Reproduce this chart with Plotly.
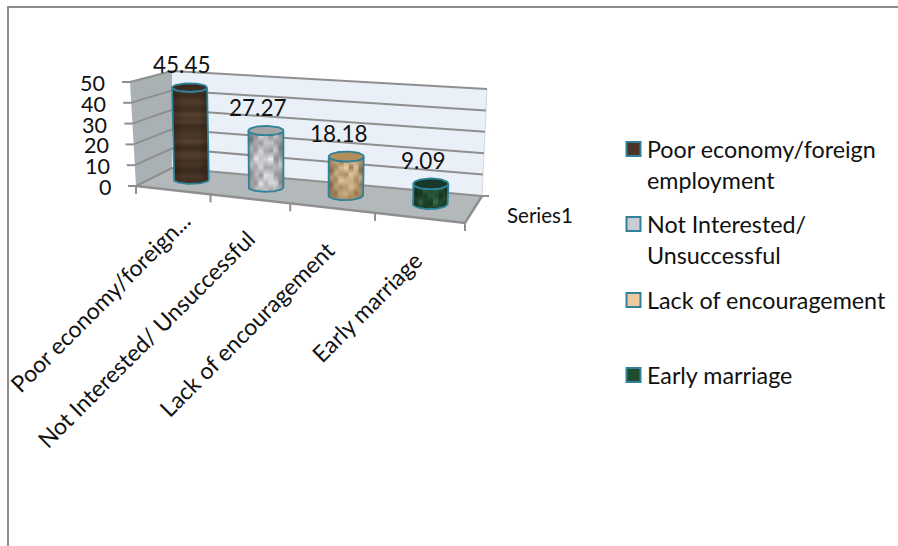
import numpy as np
import plotly.graph_objects as go

# ---- data ----
categories = ["Poor economy/foreign employment", "Not Interested/ Unsuccessful",
              "Lack of encouragement", "Early marriage"]
axis_labels = ["Poor economy/foreign...", "Not Interested/ Unsuccessful",
               "Lack of encouragement", "Early marriage"]
values = [45.45, 27.27, 18.18, 9.09]
value_text = ["45.45", "27.27", "18.18", "9.09"]
y_ticks = [0, 10, 20, 30, 40, 50]
series_name = "Series1"
legend_lines = [["Poor economy/foreign", "employment"], ["Not Interested/", "Unsuccessful"],
                ["Lack of encouragement"], ["Early marriage"]]

# ---- styling ----
FONT = "Lato"
FS_LEGEND = 23.3
FS_AXIS = 23
FS_VALUE = 22.5
FS_TICK = 21.5
FS_SERIES = 20.5
TXT = "#111111"
GRID = "#8f8f8f"
EDGE = "#2f8299"
WALL = "#e9f0f7"
FLOOR = "#b3b8bb"
SIDE = "#aab1b4"
top_fill = ["#3b2a1e", "#a3a5a7", "#b48f5c", "#17382a"]
key_fill = ["#4b3325", "#c9ccd0", "#efc9a0", "#1f4d2c"]
# cylinder surface texture: one digit string per column (top to bottom), 0 = low colour, 9 = high colour
tex_low = ["#2f2116", "#6a6d71", "#8f6a3c", "#0f3019"]
tex_high = ["#6a523c", "#f0f0f1", "#e6cfa8", "#4f8a5f"]
textures = [
    ["33422435523644325463354244"],
    ["56485726", "74659453", "48376738", "65847465", "37749362", "58463748", "74595364"],
    ["4427264", "4264747", "3538471", "3647396", "2476828", "5264795", "3649264"],
    ["1314", "2513", "1225", "3142", "1634", "2315", "1423"],
]


# ---- oblique perspective scale (value space -> page pixels) ----
FLOOR_CORNERS = np.array([(136, 186), (465, 223), (482, 196), (172, 168)], float)
ROOF_CORNERS = np.array([(130, 82), (470, 108), (487, 89), (172, 71)], float)
VMAX = 50.0


def plane(c, u, w):
    s = 0.875 * u + 0.125 * u * u
    return (1 - w) * ((1 - s) * c[0] + s * c[1]) + w * ((1 - s) * c[3] + s * c[2])


def project(u, w, v):
    t = v / VMAX
    return (1 - t) * plane(FLOOR_CORNERS, u, w) + t * plane(ROOF_CORNERS, u, w)


def mix(a, b, t):
    ca = [int(a[i:i + 2], 16) for i in (1, 3, 5)]
    cb = [int(b[i:i + 2], 16) for i in (1, 3, 5)]
    return "rgb(%d,%d,%d)" % tuple(round(x + (y - x) * t) for x, y in zip(ca, cb))


fig = go.Figure()


def line(pts, color=GRID, width=2):
    xs, ys = zip(*pts)
    fig.add_trace(go.Scatter(x=list(xs), y=list(ys), mode="lines", line=dict(color=color, width=width),
                             hoverinfo="skip", showlegend=False))


def poly(pts, fill, lc="rgba(0,0,0,0)", lw=0, gradient=None):
    xs, ys = zip(*pts)
    kw = dict(fillgradient=gradient) if gradient else dict(fillcolor=fill)
    fig.add_trace(go.Scatter(x=list(xs) + [xs[0]], y=list(ys) + [ys[0]], mode="lines", fill="toself",
                             line=dict(color=lc, width=lw), hoverinfo="skip", showlegend=False, **kw))


def label(x, y, text, size, **kw):
    fig.add_annotation(x=x, y=y, text=text, showarrow=False, xref="x", yref="y",
                       font=dict(family=FONT, size=size, color=TXT), **kw)


# chart frame
line([(8, 546), (8, 7), (898, 7)], "#8c8c8c", 2)

# walls and floor
poly([project(0, 1, 0), project(1, 1, 0), project(1, 1, VMAX), project(0, 1, VMAX)], WALL)
poly([project(0, 0, 0), project(0, 1, 0), project(0, 1, VMAX), project(0, 0, VMAX)], SIDE)
poly([project(0, 0, 0), project(1, 0, 0), project(1, 1, 0), project(0, 1, 0)], FLOOR)
line([project(1, 1, 0), project(1, 1, VMAX)], "#d5d9dc", 1)

# gridlines on side + back wall, value ticks
for t in y_ticks:
    line([project(0, 0, t), project(0, 1, t), project(1, 1, t)], GRID, 2)
    f = project(0, 0, t)
    line([f, f + np.array([-8, 0])], GRID, 2)
    label(f[0] - 23, f[1] + 1, str(t), FS_TICK, xanchor="right", yanchor="middle", height=18)

# floor edges and category ticks
line([project(0, 0, 0), project(1, 0, 0), project(1, 1, 0)], GRID, 2.5)
for i in range(len(values) + 1):
    f = project(i / len(values), 0, 0)
    line([f, f + np.array([0, 8])], GRID, 2)
b = project(1, 1, 0)
line([b, b + np.array([7, 0])], GRID, 2)
label(539.5, 215, series_name, FS_SERIES)

# cylinders
RX = 17.5
for i, v in enumerate(values):
    u = (i + 0.5) / len(values)
    B = project(u, 0.55, 0)
    T = project(u, 0.55, v)
    ry = 4 + 1.6 * u
    th = np.linspace(0, np.pi, 40)
    arc = np.c_[np.cos(th) * RX, np.sin(th) * ry]
    side = [T + [-RX, 0]] + [B + [-RX, 0]] + [B + p for p in arc[::-1]] + [T + [RX, 0]] + [T + p for p in arc]
    cols = textures[i]
    for k, digits in enumerate(cols):
        f0, f1 = -1 + 2 * k / len(cols), -1 + 2 * (k + 1) / len(cols) + (0.03 if k < len(cols) - 1 else 0)
        fr = np.linspace(f0, f1, 12)
        low = [B + [x * RX, ry * np.sqrt(max(0, 1 - x * x))] for x in fr]
        up = [T + [x * RX, ry * np.sqrt(max(0, 1 - x * x))] for x in fr[::-1]]
        scale = [[j / (len(digits) - 1), mix(tex_low[i], tex_high[i], int(d) / 9)] for j, d in enumerate(digits)]
        poly(low + up, "", gradient=dict(type="vertical", colorscale=scale))
    shade = [[0, "rgba(0,0,0,0.25)"], [0.3, "rgba(0,0,0,0)"], [0.7, "rgba(0,0,0,0)"], [1, "rgba(0,0,0,0.25)"]]
    poly(side, "", gradient=dict(type="horizontal", colorscale=shade))
    poly(side, "rgba(0,0,0,0)", EDGE, 1.8)
    full = np.linspace(0, 2 * np.pi, 60)
    poly([T + [np.cos(a) * RX, np.sin(a) * ry] for a in full], top_fill[i], EDGE, 1.8)
    label(T[0] - 7.5, T[1] - 23, value_text[i], FS_VALUE)

# rotated category labels
label_centres = [(100, 302), (145.5, 338.5), (246.5, 329), (366.5, 307)]
for (cx, cy), text in zip(label_centres, axis_labels):
    label(cx, cy, text, FS_AXIS, textangle=-45)

# legend
key_y = [149, 224, 300, 375]
for i, ky in enumerate(key_y):
    fig.add_trace(go.Scatter(x=[633.5], y=[ky], mode="markers", hoverinfo="skip", showlegend=False,
                             marker=dict(symbol="square", size=14, color=key_fill[i],
                                         line=dict(color=EDGE, width=2))))
    for j, text in enumerate(legend_lines[i]):
        label(645, ky + j * 30.5, text, FS_LEGEND, xanchor="left", yanchor="middle")

fig.update_layout(
    width=898, height=546, margin=dict(l=0, r=0, t=0, b=0),
    paper_bgcolor="white", plot_bgcolor="white", showlegend=False,
    xaxis=dict(range=[0, 898], visible=False, fixedrange=True),
    yaxis=dict(range=[546, 0], visible=False, fixedrange=True),
)
fig.write_html("out.html", config={"displayModeBar": False},
               post_script="document.body.style.margin='0';document.body.style.overflow='hidden';")
